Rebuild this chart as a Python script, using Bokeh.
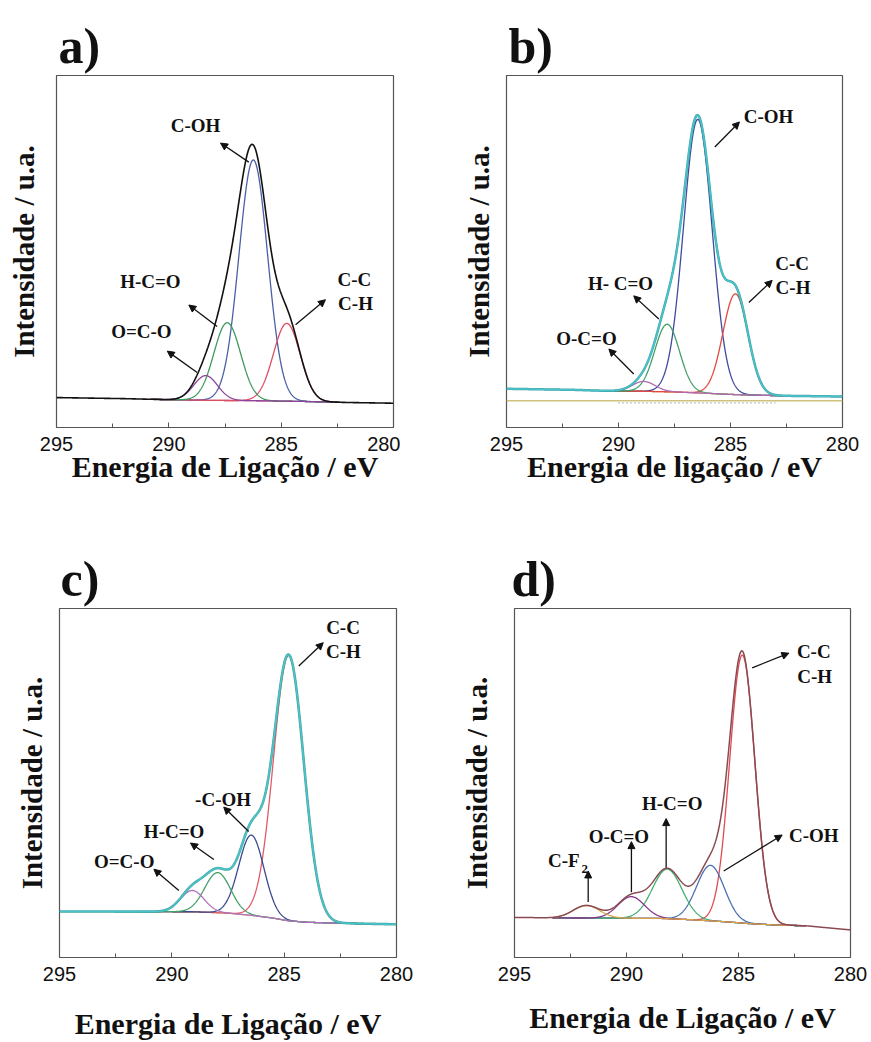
import numpy as np
from bokeh.plotting import figure
from bokeh.models import Range1d, FixedTicker, Arrow, NormalHead, Label, Title
from bokeh.layouts import column, row
from bokeh.embed import file_html
from bokeh.resources import INLINE

SERIF = "'Liberation Serif', 'Times New Roman', 'DejaVu Serif', serif"
SANS = "'Liberation Sans', Arial, sans-serif"

# ---------------- data ----------------
# Binding energy (eV) of each fitted component, height above background (a.u.), FWHM (eV)
# Panel a
A_NAMES = ["C-OH", "C-C / C-H", "H-C=O", "O=C-O"]
A_CENTER = [286.24, 284.75, 287.40, 288.36]
A_HEIGHT = [68.4, 22.1, 22.1, 7.0]
A_FWHM = [1.50, 1.40, 1.40, 1.25]
A_BG_EV = [295, 292, 290, 288, 286, 284, 282, 280]
A_BG_U = [8.5, 8.2, 7.9, 7.7, 7.6, 7.4, 7.1, 6.9]
A_FIT = [290.8, 282.4]

# Panel b
B_NAMES = ["C-OH", "C-C / C-H", "H-C=O", "O-C=O"]
B_CENTER = [286.46, 284.78, 287.83, 288.87]
B_HEIGHT = [77.7, 28.6, 19.2, 2.8]
B_FWHM = [1.50, 1.32, 1.30, 1.20]
B_BG_EV = [295, 292, 290.5, 289, 287.5, 286, 285, 284, 282.5, 280]
B_BG_U = [11.0, 10.7, 10.4, 10.3, 10.1, 9.7, 9.4, 9.2, 9.0, 8.8]
B_FIT = [290.7, 282.7]
B_LINE_U = 7.6       # straight reference line
B_RESID_U = 7.0      # residual trace
B_RESID_EV = [290.0, 283.0]

# Panel c
C_NAMES = ["C-C / C-H", "-C-OH", "H-C=O", "O=C-O"]
C_CENTER = [284.80, 286.46, 287.96, 289.09]
C_HEIGHT = [76.0, 23.0, 11.5, 6.1]
C_FWHM = [1.58, 1.32, 1.35, 1.25]
C_BG_EV = [295, 289, 287.5, 286.5, 285.5, 284.8, 284, 283, 280]
C_BG_U = [13.2, 13.1, 12.7, 12.1, 11.3, 10.5, 10.1, 9.9, 9.5]
C_FIT = [291.4, 280.2]

# Panel d
D_NAMES = ["C-C / C-H", "C-OH", "H-C=O", "O-C=O", "C-F2"]
D_CENTER = [284.83, 286.25, 288.18, 289.79, 291.79]
D_HEIGHT = [76.8, 15.9, 14.2, 6.2, 3.6]
D_FWHM = [1.32, 1.46, 1.55, 1.40, 1.40]
D_BG_EV = [295, 293.3, 288.5, 287, 285.5, 284.5, 283.3, 282, 281, 280]
D_BG_U = [11.5, 11.35, 11.2, 10.8, 10.2, 9.7, 9.3, 9.1, 8.5, 7.9]
D_FIT = [293.3, 282.0]

X_TICKS = [295, 290, 285, 280]
X_MINOR = [292.5, 287.5, 282.5]


def gauss(x, c, h, w):
    return h * np.exp(-4.0 * np.log(2.0) * (x - c) ** 2 / w ** 2)


def make_panel(tag, tag_offset, tag_gap, xlabel, width, height, borders, centers, heights,
               fwhms, comp_colors, bg_ev, bg_u, fit, env_color, env_width, meas_color,
               base_color, labels, arrows, xlabel_standoff, ylabel_standoff):
    left, right, top, bottom = borders
    p = figure(width=width, height=height, output_backend="svg", toolbar_location=None,
               x_range=Range1d(295, 280), y_range=Range1d(0, 100),
               min_border_left=left, min_border_right=right,
               min_border_top=top, min_border_bottom=bottom)
    p.grid.visible = False
    p.background_fill_color = "white"
    p.border_fill_color = "white"
    p.outline_line_color = "#555555"
    p.outline_line_width = 1.2

    # small blank spacer between frame and panel letter (a no-break space)
    p.title.text = "\u00a0"
    p.title.text_font_size = "8px"
    p.title.standoff = tag_gap
    # panel letter, e.g. "a)"
    p.add_layout(Title(text=tag, text_font=SERIF, text_font_style="bold",
                       text_font_size="50px", text_color="#111111", align="left",
                       vertical_align="top", offset=tag_offset, standoff=0), "above")

    # x axis
    xa = p.xaxis[0]
    xa.ticker = FixedTicker(ticks=X_TICKS, minor_ticks=X_MINOR)
    xa.axis_line_color = None
    xa.major_tick_in = 5
    xa.major_tick_out = 0
    xa.minor_tick_in = 4
    xa.minor_tick_out = 0
    xa.major_tick_line_color = "#555555"
    xa.minor_tick_line_color = "#555555"
    xa.major_label_text_font = SANS
    xa.major_label_text_font_size = "20px"
    xa.major_label_text_color = "#111111"
    xa.major_label_standoff = 9
    xa.axis_label = xlabel
    xa.axis_label_text_font = SERIF
    xa.axis_label_text_font_style = "bold"
    xa.axis_label_text_font_size = "30px"
    xa.axis_label_text_color = "#111111"
    xa.axis_label_standoff = xlabel_standoff

    # y axis (label only)
    ya = p.yaxis[0]
    ya.ticker = FixedTicker(ticks=[])
    ya.axis_line_color = None
    ya.major_tick_line_color = None
    ya.minor_tick_line_color = None
    ya.major_label_text_font_size = "0px"
    ya.major_label_standoff = 0
    ya.axis_label = "Intensidade / u.a."
    ya.axis_label_text_font = SERIF
    ya.axis_label_text_font_style = "bold"
    ya.axis_label_text_font_size = "29px"
    ya.axis_label_text_color = "#111111"
    ya.axis_label_standoff = ylabel_standoff

    # measured / envelope over full range
    xfull = np.linspace(295, 280, 900)
    bg_full = np.interp(xfull, bg_ev[::-1], bg_u[::-1])
    comp_full = [gauss(xfull, c, h, w) for c, h, w in zip(centers, heights, fwhms)]
    env = bg_full + np.sum(comp_full, axis=0)

    # component fit region
    xf = np.linspace(fit[0], fit[1], 600)
    bg_fit = np.interp(xf, bg_ev[::-1], bg_u[::-1])
    p.line(xf, bg_fit, line_color=base_color, line_width=1.3)
    for c, h, w, col in zip(centers, heights, fwhms, comp_colors):
        p.line(xf, bg_fit + gauss(xf, c, h, w), line_color=col, line_width=1.3)

    if meas_color is not None:
        p.line(xfull, env, line_color=meas_color, line_width=env_width + 1.0, line_alpha=0.9)
    p.line(xfull, env, line_color=env_color, line_width=env_width)

    for item in labels:
        txt, lx, ly = item[0], item[1], item[2]
        size = item[3] if len(item) > 3 else "19px"
        p.add_layout(Label(x=lx, y=ly, text=txt, text_font=SERIF, text_font_style="bold",
                           text_font_size=size, text_align="center", text_baseline="middle",
                           text_color="#111111"))
    for (x0, y0, x1, y1) in arrows:
        p.add_layout(Arrow(end=NormalHead(size=7, fill_color="#111111", line_color="#111111"),
                           x_start=x0, y_start=y0, x_end=x1, y_end=y1,
                           line_color="#111111", line_width=1.3))
    return p


pa = make_panel(
    "a)", 2, 4, "Energia de Ligação / eV", 400, 520, (56, 7, 72, 93),
    A_CENTER, A_HEIGHT, A_FWHM, ["#4a5fa8", "#dc4f62", "#3f9a5e", "#8e449a"],
    A_BG_EV, A_BG_U, A_FIT, "#111111", 1.6, None, "#c44a80",
    [("C-OH", 288.81, 85.9), ("H-C=O", 290.82, 41.4), ("O=C-O", 291.22, 27.3),
     ("C-C", 281.74, 42.0), ("C-H", 281.69, 35.2)],
    [(286.44, 75.4, 287.70, 80.8), (287.85, 28.7, 289.11, 34.8),
     (288.74, 15.6, 290.07, 21.7), (284.36, 29.2, 283.03, 36.3)],
    -4, 17)

pb = make_panel(
    "b)", 2, 6, "Energia de ligação / eV", 471, 520, (106, 29, 74, 93),
    B_CENTER, B_HEIGHT, B_FWHM, ["#3f4a9c", "#e2483f", "#44a06a", "#b06ab2"],
    B_BG_EV, B_BG_U, B_FIT, "#48c3cf", 1.5, "#2f9a98", "#e0803a",
    [("C-OH", 283.30, 88.4), ("H- C=O", 289.91, 40.8), ("O-C=O", 291.43, 25.2),
     ("C-C", 282.25, 46.7), ("C-H", 282.21, 39.7)],
    [(285.70, 79.7, 284.60, 86.8), (288.20, 30.8, 289.32, 37.4),
     (289.32, 15.2, 290.43, 22.3), (284.18, 35.5, 283.14, 41.8)],
    -4, 12)
pb.line([295, 280], [B_LINE_U, B_LINE_U], line_color="#cfc27a", line_width=1.6)
pb.line(B_RESID_EV, [B_RESID_U, B_RESID_U], line_color="#8a8a8a", line_width=1.2,
        line_dash="1 3")

pc = make_panel(
    "c)", 1, 4, "Energia de Ligação / eV", 430, 522, (59, 34, 88, 79),
    C_CENTER, C_HEIGHT, C_FWHM, ["#e05a6a", "#3a4a8e", "#44a06a", "#b070c0"],
    C_BG_EV, C_BG_U, C_FIT, "#48c3cf", 1.6, "#3a9c8c", "#d0b050",
    [("C-C", 282.38, 94.5), ("C-H", 282.36, 87.7), ("-C-OH", 287.72, 45.4),
     ("H-C=O", 289.90, 36.1), ("O=C-O", 292.12, 27.6)],
    [(284.35, 83.5, 283.26, 90.2), (286.58, 36.1, 287.69, 43.1),
     (288.13, 28.1, 289.17, 32.8), (289.69, 19.2, 290.80, 25.3)],
    23, 12)

pd_ = make_panel(
    "d)", -3, 4, "Energia de Ligação / eV", 441, 522, (84, 21, 88, 79),
    D_CENTER, D_HEIGHT, D_FWHM, ["#e04a50", "#4a70b4", "#44b070", "#85358a", "#d8a048"],
    D_BG_EV, D_BG_U, D_FIT, "#8a4a52", 1.5, None, "#44b4b0",
    [("C-C", 281.64, 87.7), ("C-H", 281.60, 80.6), ("C-OH", 281.64, 35.1),
     ("H-C=O", 287.96, 44.0), ("O-C=O", 290.34, 34.6), ("C-F", 292.80, 27.8),
     ("2", 291.86, 25.3, "13px")],
    [(284.39, 83.0, 282.75, 87.2), (285.66, 24.8, 283.05, 35.1),
     (288.23, 25.7, 288.23, 39.8), (289.78, 18.7, 289.78, 33.2),
     (291.71, 15.9, 291.71, 24.8)],
    17, 22)

layout = column(row(pa, pb), row(pc, pd_))
open("out.html", "w").write(file_html(layout, INLINE))
